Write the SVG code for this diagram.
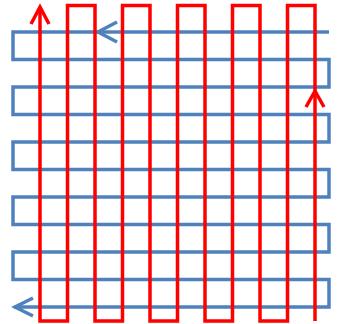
<svg xmlns="http://www.w3.org/2000/svg" width="337" height="324" viewBox="0 0 337 324">
<style>
.b{fill:none;stroke:#4F81BD;stroke-width:3.5;stroke-linejoin:miter}
.r{fill:none;stroke:#FF0000;stroke-width:3.5;stroke-linejoin:miter}
</style>
<rect width="337" height="324" fill="#FFFFFF"/>
<g id="blue-path">
<path class="b" d="M329,32 H13 V59.5 H329 V87 H13 V114.5 H329 V142 H13 V169.5 H329 V197 H13 V224.5 H329 V252 H13 V279.5 H329 V307 H14"/>
<polyline class="b" points="117,22 98,32 117,42"/>
<polyline class="b" points="33,298 15,307 33,316"/>
</g>
<g id="red-path">
<path class="r" d="M315,321 V5.5 H287.5 V321 H260 V5.5 H232.5 V321 H205 V5.5 H177.5 V321 H150 V5.5 H122.5 V321 H95 V5.5 H67.5 V321 H40 V7"/>
<polyline class="r" points="31,24 40,7 49,24"/>
<polyline class="r" points="306,107 315,91 324,107"/>
</g>
</svg>
